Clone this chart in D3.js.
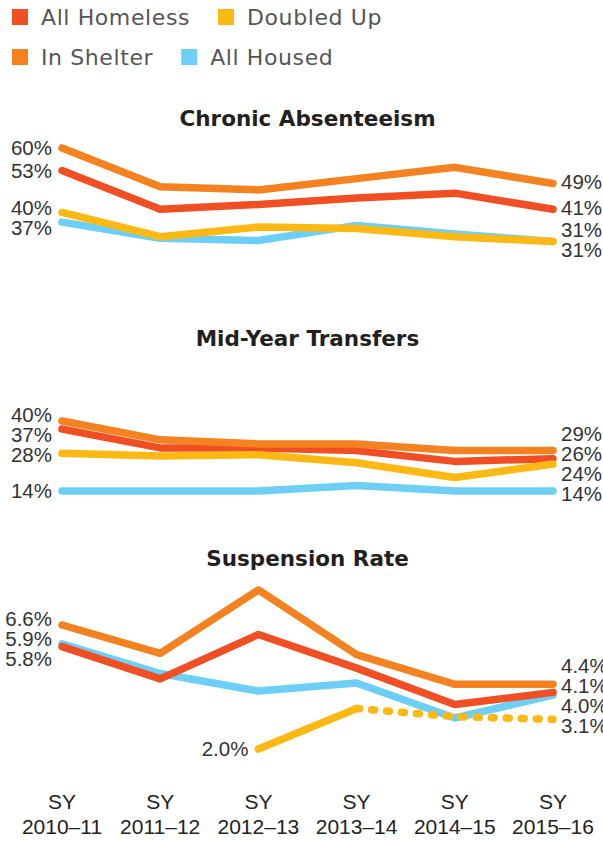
<!DOCTYPE html>
<html>
<head>
<meta charset="utf-8">
<script src="https://cdn.jsdelivr.net/npm/d3@7"></script>
<style>
  html, body { margin: 0; padding: 0; background: #fff; }
  svg { display: block; }
  .legend-text { font-family: "DejaVu Sans", sans-serif; font-size: 22px; fill: #555; letter-spacing: 0.6px; }
  .title { font-family: "DejaVu Sans", sans-serif; font-weight: bold; font-size: 21.5px; fill: #231f20; }
  .val { font-family: "Liberation Sans", Arial, sans-serif; font-size: 20.5px; fill: #333; }
  .axis-label { font-family: "Liberation Sans", Arial, sans-serif; font-size: 21px; fill: #222; }
</style>
</head>
<body>
<div id="chart"></div>
<script>
// Categories
const years = ["2010–11", "2011–12", "2012–13", "2013–14", "2014–15", "2015–16"];

// Series (drawing order: bottom to top)
const seriesNames = ["All Housed", "All Homeless", "In Shelter", "Doubled Up"];
const seriesColors = ["#6dcff6", "#f04e23", "#f58220", "#fdb913"];
const legendRows = [["All Homeless", "Doubled Up"], ["In Shelter", "All Housed"]];

// Chronic Absenteeism (%)
const chronicHoused   = [37, 32, 31.3, 36, 33.3, 31];
const chronicHomeless = [53, 41, 42.5, 44.5, 46, 41];
const chronicShelter  = [60, 48, 47, 50.5, 54, 49];
const chronicDoubled  = [40, 32.5, 35.5, 35, 32.5, 31];

// Mid-Year Transfers (%)
const transfersHoused   = [14, 14, 14, 16, 14, 14];
const transfersHomeless = [37, 30, 30, 29, 25, 26];
const transfersShelter  = [40, 33, 31.5, 31.5, 29, 29];
const transfersDoubled  = [28, 27, 27.5, 24.5, 19, 24];

// Suspension Rate (%)
const suspensionHoused   = [5.9, 4.8, 4.15, 4.45, 3.15, 4.0];
const suspensionHomeless = [5.8, 4.6, 6.25, 5.0, 3.65, 4.1];
const suspensionShelter  = [6.6, 5.55, 7.9, 5.5, 4.4, 4.4];
const suspensionDoubled  = [null, null, 2.0, 3.5, 3.2, 3.1];
const suspensionDoubledDashedFrom = 3; // dotted from this year on

const panels = [
  { title: "Chronic Absenteeism", fmt: d => d3.format(".0f")(d) + "%",
    values: [chronicHoused, chronicHomeless, chronicShelter, chronicDoubled],
    domain: [31, 60], range: [241.5, 148], titleY: 126 },
  { title: "Mid-Year Transfers", fmt: d => d3.format(".0f")(d) + "%",
    values: [transfersHoused, transfersHomeless, transfersShelter, transfersDoubled],
    domain: [14, 40], range: [491, 421], titleY: 346 },
  { title: "Suspension Rate", fmt: d => d3.format(".1f")(d) + "%",
    values: [suspensionHoused, suspensionHomeless, suspensionShelter, suspensionDoubled],
    dashed: { series: 3, from: suspensionDoubledDashedFrom },
    domain: [2, 6.6], range: [749, 625], titleY: 566 }
];

const width = 603, height = 841;
const svg = d3.select("#chart").append("svg")
  .attr("width", width).attr("height", height);

const x = d3.scalePoint().domain(years).range([62, 553]);
const color = d3.scaleOrdinal().domain(seriesNames).range(seriesColors);

// Legend (flows inline like the original)
legendRows.forEach((row, r) => {
  let cx = 12;
  const cy = 25 + r * 40;
  row.forEach(name => {
    svg.append("rect")
      .attr("x", cx).attr("y", cy - 16)
      .attr("width", 16).attr("height", 16)
      .attr("fill", color(name));
    const t = svg.append("text")
      .attr("class", "legend-text")
      .attr("x", cx + 29).attr("y", cy)
      .text(name);
    cx += 29 + t.node().getComputedTextLength() + 28;
  });
});

// Spread labels so they do not overlap
function spread(items, gap) {
  items.sort((a, b) => a.y - b.y);
  for (let k = 0; k < 200; k++) {
    let moved = false;
    for (let i = 0; i < items.length - 1; i++) {
      const d = items[i + 1].y - items[i].y;
      if (d < gap) {
        const s = (gap - d) / 2;
        items[i].y -= s;
        items[i + 1].y += s;
        moved = true;
      }
    }
    if (!moved) break;
  }
  return items;
}

const line = y => d3.line()
  .defined(d => d.v != null)
  .x(d => x(d.year))
  .y(d => y(d.v));

panels.forEach(p => {
  const y = d3.scaleLinear().domain(p.domain).range(p.range);
  const g = svg.append("g");

  g.append("text")
    .attr("class", "title")
    .attr("x", (x.range()[0] + x.range()[1]) / 2)
    .attr("y", p.titleY)
    .attr("text-anchor", "middle")
    .text(p.title);

  const leftLabels = [], rightLabels = [];

  p.values.forEach((vals, si) => {
    const pts = vals.map((v, i) => ({ year: years[i], v: v, i: i }));
    const c = seriesColors[si];
    const common = sel => sel
      .attr("fill", "none")
      .attr("stroke", c)
      .attr("stroke-width", 7.5)
      .attr("stroke-linecap", "round")
      .attr("stroke-linejoin", "round");

    if (p.dashed && p.dashed.series === si) {
      const from = p.dashed.from;
      g.append("path").datum(pts.filter(d => d.i <= from))
        .attr("d", line(y)).call(common);
      g.append("path").datum(pts.filter(d => d.i >= from))
        .attr("d", line(y)).call(common)
        .attr("stroke-dasharray", "3,12");
    } else {
      g.append("path").datum(pts).attr("d", line(y)).call(common);
    }

    const defined = pts.filter(d => d.v != null);
    const first = defined[0], last = defined[defined.length - 1];
    leftLabels.push({ x: x(first.year) - 10, y: y(first.v), v: first.v });
    rightLabels.push({ x: x(last.year) + 8, y: y(last.v), v: last.v });
  });

  // first-year labels: group by x so the 2.0% label stays on its own
  d3.groups(leftLabels, d => d.x).forEach(([, items]) => {
    spread(items, 20).forEach(d => {
      g.append("text").attr("class", "val")
        .attr("x", d.x).attr("y", d.y).attr("dy", "0.36em")
        .attr("text-anchor", "end")
        .text(p.fmt(d.v));
    });
  });
  spread(rightLabels, 20).forEach(d => {
    g.append("text").attr("class", "val")
      .attr("x", d.x).attr("y", d.y - 2).attr("dy", "0.36em")
      .attr("text-anchor", "start")
      .text(p.fmt(d.v));
  });
});

// X axis labels
const xAxis = svg.append("g");
years.forEach(yr => {
  const t = xAxis.append("text")
    .attr("class", "axis-label")
    .attr("text-anchor", "middle")
    .attr("x", x(yr));
  t.append("tspan").attr("x", x(yr)).attr("y", 809).text("SY");
  t.append("tspan").attr("x", x(yr)).attr("y", 834).text(yr);
});
</script>
</body>
</html>
